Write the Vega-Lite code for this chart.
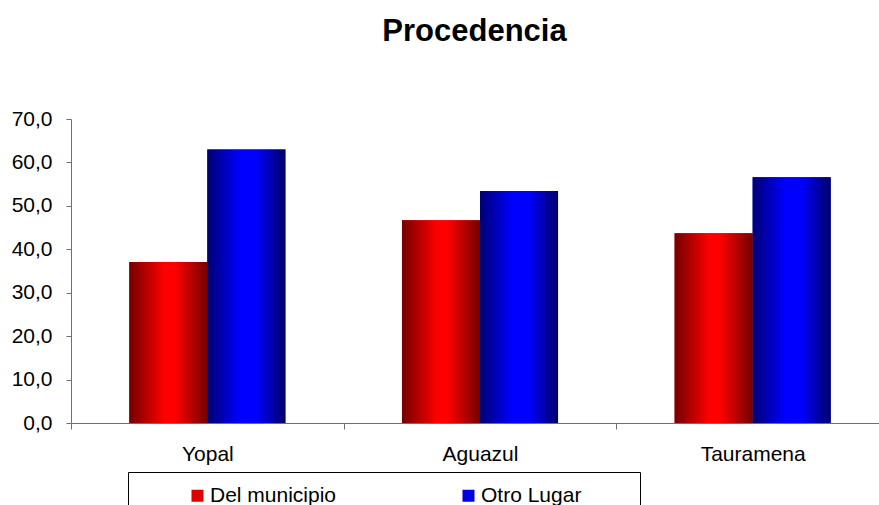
{
  "$schema": "https://vega.github.io/schema/vega-lite/v6.json",
  "width": 818,
  "height": 304,
  "autosize": {"type": "none"},
  "padding": {"left": 71, "top": 119, "right": 0, "bottom": 82},
  "background": "white",
  "config": {"view": {"stroke": null}, "font": "Liberation Sans"},
  "title": {
    "text": "Procedencia",
    "fontSize": 31,
    "fontWeight": "bold",
    "font": "Liberation Sans",
    "color": "black",
    "anchor": "middle",
    "frame": "group",
    "baseline": "alphabetic",
    "offset": 36,
    "dx": -5.5
  },
  "data": {
    "values": [
      {"municipio": "Yopal", "serie": "Del municipio", "valor": 37.1},
      {"municipio": "Yopal", "serie": "Otro Lugar", "valor": 63.0},
      {"municipio": "Aguazul", "serie": "Del municipio", "valor": 46.7},
      {"municipio": "Aguazul", "serie": "Otro Lugar", "valor": 53.4},
      {"municipio": "Tauramena", "serie": "Del municipio", "valor": 43.7},
      {"municipio": "Tauramena", "serie": "Otro Lugar", "valor": 56.6}
    ]
  },
  "encoding": {
    "x": {
      "field": "municipio",
      "type": "nominal",
      "sort": ["Yopal", "Aguazul", "Tauramena"],
      "scale": {"paddingInner": 0, "paddingOuter": 0},
      "axis": {
        "title": null,
        "labelAngle": 0,
        "tickBand": "extent",
        "tickSize": 6,
        "labelPadding": 14,
        "labelFontSize": 21,
        "labelFont": "Liberation Sans",
        "labelColor": "black",
        "domainColor": "#6f6f6f",
        "tickColor": "#6f6f6f",
        "grid": false
      }
    },
    "xOffset": {
      "field": "serie",
      "type": "nominal",
      "sort": ["Del municipio", "Otro Lugar"],
      "scale": {"paddingInner": 0, "paddingOuter": 0.747}
    },
    "y": {
      "field": "valor",
      "type": "quantitative",
      "scale": {"domain": [0, 70], "nice": false},
      "axis": {
        "title": null,
        "grid": false,
        "values": [0, 10, 20, 30, 40, 50, 60, 70],
        "labelExpr": "replace(format(datum.value, '.1f'), '.', ',')",
        "tickSize": 5,
        "labelPadding": 14,
        "labelFontSize": 21,
        "labelFont": "Liberation Sans",
        "labelColor": "black",
        "domainColor": "#6f6f6f",
        "tickColor": "#6f6f6f"
      }
    }
  },
  "layer": [
    {
      "mark": {"type": "bar"},
      "encoding": {
        "color": {
          "field": "serie",
          "type": "nominal",
          "sort": ["Del municipio", "Otro Lugar"],
          "scale": {"domain": ["Del municipio", "Otro Lugar"], "range": ["#e00000", "#0000e0"]},
          "legend": {
            "orient": "none",
            "legendX": 57,
            "legendY": 353,
            "direction": "horizontal",
            "title": "x",
            "titleOrient": "left",
            "titleColor": "white",
            "titleFontSize": 10,
            "titlePadding": 40,
            "padding": 13,
            "strokeColor": "black",
            "symbolType": "square",
            "symbolSize": 144,
            "symbolStrokeWidth": 0,
            "labelFontSize": 21,
            "labelFont": "Liberation Sans",
            "labelColor": "black",
            "labelOffset": 2,
            "labelLimit": 400,
            "columnPadding": 121,
            "labelExpr": "datum.label == 'Otro Lugar' ? 'Otro Lugar\u2800\u2800\u2800' : datum.label"
          }
        }
      }
    },
    {
      "mark": {"type": "bar"},
      "encoding": {
        "fill": {
          "condition": {
            "test": "datum.serie === 'Del municipio'",
            "value": {"gradient": "linear", "x1": 0, "y1": 0, "x2": 1, "y2": 0, "stops": [{"offset": 0, "color": "#740000"}, {"offset": 0.45, "color": "#ff0000"}, {"offset": 0.58, "color": "#ff0000"}, {"offset": 1, "color": "#740000"}]}
          },
          "value": {"gradient": "linear", "x1": 0, "y1": 0, "x2": 1, "y2": 0, "stops": [{"offset": 0, "color": "#000074"}, {"offset": 0.42, "color": "#0000ff"}, {"offset": 0.62, "color": "#0000ff"}, {"offset": 1, "color": "#000068"}]}
        }
      }
    }
  ]
}
